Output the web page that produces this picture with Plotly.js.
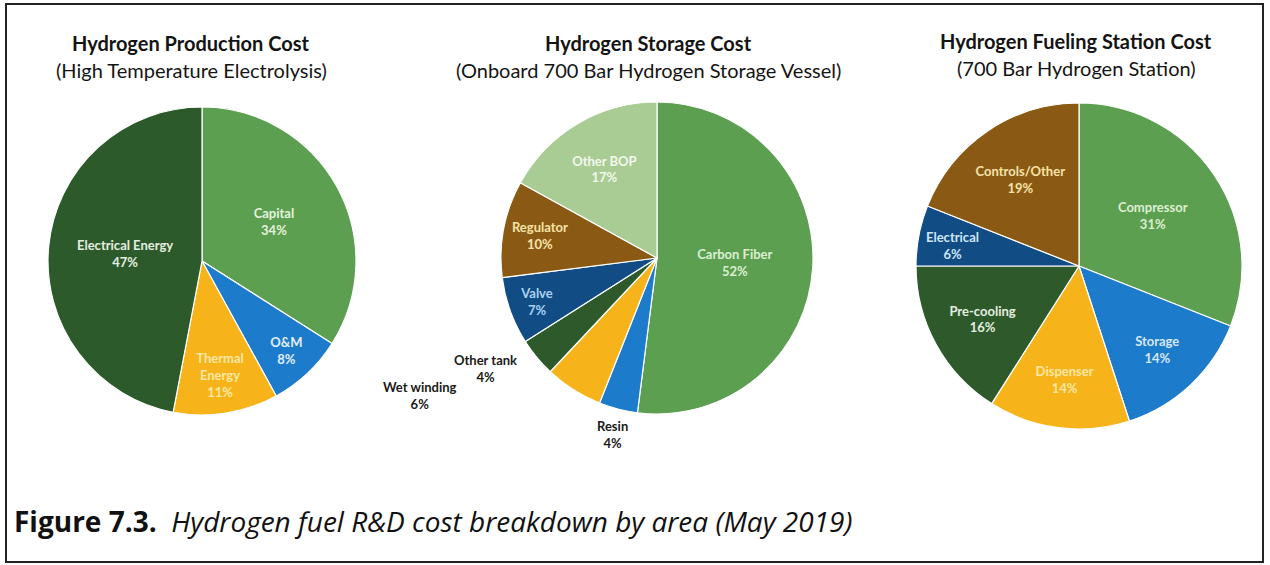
<!DOCTYPE html>
<html>
<head>
<meta charset="utf-8">
<script src="https://cdn.plot.ly/plotly-3.0.1.min.js"></script>
<style>html,body{margin:0;padding:0;background:#fff;}#chart{width:1270px;height:565px;}</style>
</head>
<body>
<div id="chart"></div>
<script>
// ---- Data ----
const prodLabels = ['Capital', 'O&M', 'Thermal Energy', 'Electrical Energy'];
const prodText   = ['Capital', 'O&M', 'Thermal<br>Energy', 'Electrical Energy'];
const prodValues = [34, 8, 11, 47];

const storLabels = ['Carbon Fiber', 'Resin', 'Wet winding', 'Other tank', 'Valve', 'Regulator', 'Other BOP'];
const storText   = ['Carbon Fiber', 'Resin', 'Wet winding', 'Other tank', 'Valve', 'Regulator', 'Other BOP'];
const storValues = [52, 4, 6, 4, 7, 10, 17];

const statLabels = ['Compressor', 'Storage', 'Dispenser', 'Pre-cooling', 'Electrical', 'Controls/Other'];
const statText   = ['Compressor', 'Storage', 'Dispenser', 'Pre-cooling', 'Electrical', 'Controls/Other'];
const statValues = [31, 14, 14, 16, 6, 19];

const chartTitles = [
  ['Hydrogen Production Cost', '(High Temperature Electrolysis)'],
  ['Hydrogen Storage Cost', '(Onboard 700 Bar Hydrogen Storage Vessel)'],
  ['Hydrogen Fueling Station Cost', '(700 Bar Hydrogen Station)']
];
const captionBold = 'Figure 7.3.';
const captionItalic = 'Hydrogen fuel R&D cost breakdown by area (May 2019)';

// ---- Styles / layout ----
const W = 1270, H = 565;
const C = {
  lightGreen: '#5C9F50', darkGreen: '#2D5A2A', orange: '#F6B41A', blue: '#1C7BCB',
  navy: '#124C84', brown: '#8A5A15', paleGreen: '#A8CC94', deepGreen: '#2E5A2B'
};
const FONT = 'Lato, "Open Sans", sans-serif';
const LBL = 13;

function px2dom(x0, x1, y0, y1) {
  return { x: [x0 / W, x1 / W], y: [1 - y1 / H, 1 - y0 / H] };
}

const common = {
  type: 'pie', sort: false, direction: 'clockwise', rotation: 0,
  texttemplate: '%{text}<br>%{value}%', hoverinfo: 'label+percent',
  insidetextorientation: 'horizontal', showlegend: false
};

const t1 = Object.assign({}, common, {
  labels: prodLabels, values: prodValues, text: prodText,
  domain: px2dom(48, 356, 107, 415),
  marker: { colors: [C.lightGreen, C.blue, C.orange, C.darkGreen], line: { color: '#fff', width: 1.2 } },
  textposition: 'inside',
  insidetextfont: { family: FONT, size: LBL, weight: 'bold', color: ['#E6F2DE', '#E3EEFA', '#FBE7A6', '#E4EEE0'] }
});

// labels placed by annotation (outside the small storage slices, and the narrow Electrical slice)
const storFree = [false, true, true, true, false, false, false];
const t2 = Object.assign({}, common, {
  labels: storLabels, values: storValues, text: storText,
  domain: px2dom(501, 813, 102, 414),
  marker: { colors: [C.lightGreen, C.blue, C.orange, C.deepGreen, C.navy, C.brown, C.paleGreen], line: { color: '#fff', width: 1.2 } },
  textposition: storFree.map(o => o ? 'none' : 'inside'),
  insidetextfont: { family: FONT, size: LBL, weight: 'bold', color: ['#DDEED3', '#ffffff', '#ffffff', '#ffffff', '#A9D2F2', '#F6E3A8', '#F3F8EE'] }
});

const statFree = [false, false, false, false, true, false];
const statColors = ['#DDEED3', '#D6E8F8', '#FBE7A6', '#E4EEE0', '#CFE6F8', '#F6E3A8'];
const t3 = Object.assign({}, common, {
  labels: statLabels, values: statValues, text: statText,
  domain: px2dom(916, 1242, 103, 429),
  marker: { colors: [C.lightGreen, C.blue, C.orange, C.deepGreen, C.navy, C.brown], line: { color: '#fff', width: 1.2 } },
  textposition: statFree.map(o => o ? 'none' : 'inside'),
  insidetextfont: { family: FONT, size: LBL, weight: 'bold', color: statColors }
});

const titleX = [191, 648, 1076];
const titleY = [[43, 70], [43, 70], [41, 68]];
const annotations = [];
chartTitles.forEach((tt, i) => {
  annotations.push({ xref: 'paper', yref: 'paper', x: titleX[i] / W, y: 1 - titleY[i][0] / H,
    text: '<b>' + tt[0] + '</b>', showarrow: false, xanchor: 'center', yanchor: 'middle',
    font: { family: FONT, size: 20, color: '#141414' } });
  annotations.push({ xref: 'paper', yref: 'paper', x: titleX[i] / W, y: 1 - titleY[i][1] / H,
    text: tt[1], showarrow: false, xanchor: 'center', yanchor: 'middle',
    font: { family: FONT, size: 20, color: '#141414' } });
});

// free label placement (pixel positions of label centres)
const storPos = { 1: [612, 434], 2: [420, 395], 3: [485, 369] };
storLabels.forEach((lab, i) => {
  if (!storFree[i]) return;
  annotations.push({ xref: 'paper', yref: 'paper', x: storPos[i][0] / W, y: 1 - storPos[i][1] / H,
    text: '<b>' + lab + '<br>' + storValues[i] + '%</b>', showarrow: false, xanchor: 'center', yanchor: 'middle',
    font: { family: FONT, size: LBL, color: '#1a1a1a' } });
});
const statPos = { 4: [952, 246] };
statLabels.forEach((lab, i) => {
  if (!statFree[i]) return;
  annotations.push({ xref: 'paper', yref: 'paper', x: statPos[i][0] / W, y: 1 - statPos[i][1] / H,
    text: '<b>' + lab + '<br>' + statValues[i] + '%</b>', showarrow: false, xanchor: 'center', yanchor: 'middle',
    font: { family: FONT, size: LBL, color: statColors[i] } });
});

annotations.push({ xref: 'paper', yref: 'paper', x: 12 / W, y: 1 - 521 / H,
  text: '<b>' + captionBold + '</b>  <i>' + captionItalic + '</i>', showarrow: false,
  xanchor: 'left', yanchor: 'middle', font: { family: '"Open Sans", Lato, sans-serif', size: 28, color: '#111' } });

const layout = {
  width: W, height: H, margin: { l: 0, r: 0, t: 0, b: 0 },
  paper_bgcolor: '#ffffff', plot_bgcolor: '#ffffff',
  annotations: annotations,
  shapes: [{ type: 'rect', xref: 'paper', yref: 'paper', x0: 6 / W, x1: 1263 / W, y0: 1 - 562 / H, y1: 1 - 4 / H,
    line: { color: '#222', width: 2 }, fillcolor: 'rgba(0,0,0,0)' }]
};

Plotly.newPlot('chart', [t1, t2, t3], layout, { staticPlot: true, displayModeBar: false });
</script>
</body>
</html>
